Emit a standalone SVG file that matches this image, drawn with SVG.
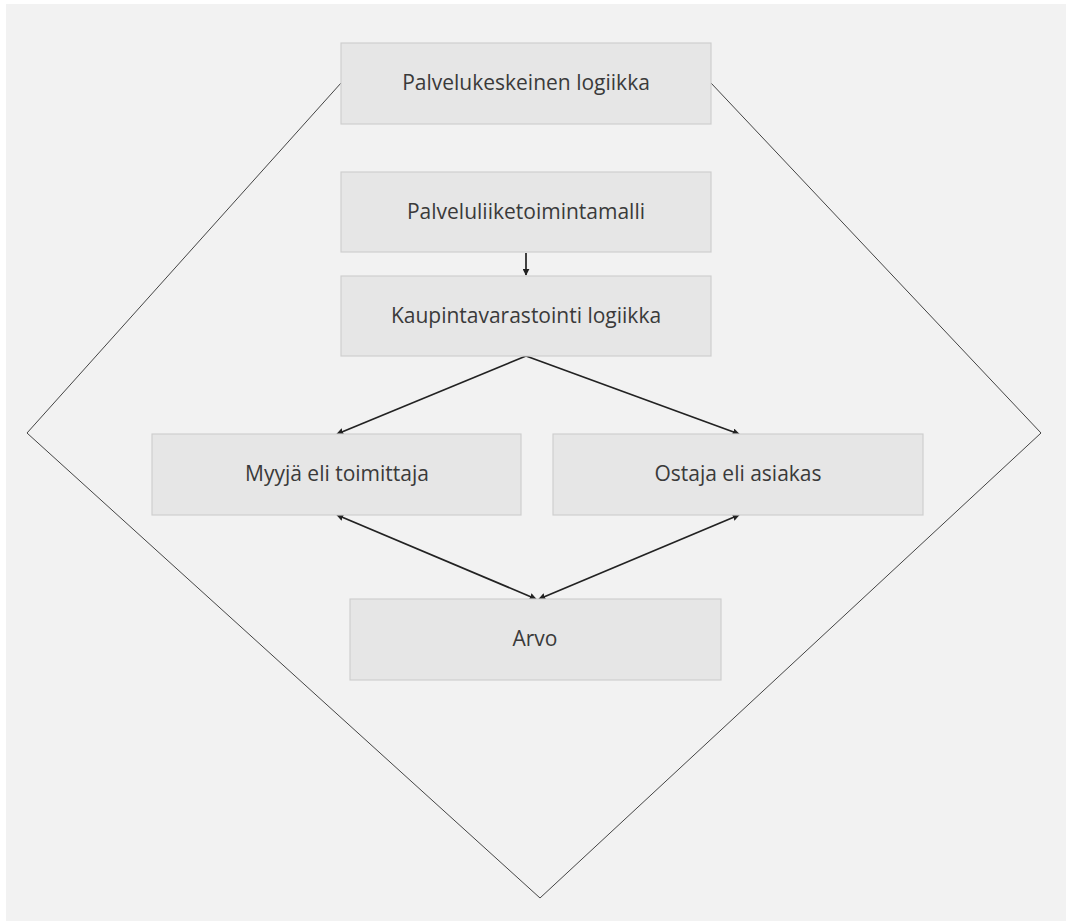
<svg xmlns="http://www.w3.org/2000/svg" width="1068" height="922" viewBox="0 0 1068 922">
  <style>
    .node rect { fill: #e6e6e6; stroke: #cfcfcf; stroke-width: 1.2; }
    .node text { font-family: "Open Sans", "Noto Sans", sans-serif; font-size: 21px; fill: #3a3a3a; text-anchor: middle; dominant-baseline: central; }
    .outline { fill: none; stroke: #444; stroke-width: 1; }
    .edge { fill: none; stroke: #222; stroke-width: 1.7; }
  </style>
  <defs>
    <marker id="arrow" viewBox="0 0 10 10" refX="9" refY="5" markerWidth="7" markerHeight="7" markerUnits="userSpaceOnUse" orient="auto-start-reverse">
      <path d="M0,0 L10,5 L0,10 z" fill="#222"/>
    </marker>
  </defs>

  <rect x="0" y="0" width="1068" height="922" fill="#ffffff"/>
  <rect x="6" y="4" width="1060" height="917" fill="#f2f2f2"/>

  <!-- surrounding diamond frame -->
  <g id="frame">
    <polyline class="outline" points="341,83 27,433 540,898 1041,433 711,83"/>
  </g>

  <g id="connectors">
    <line class="edge" x1="526" y1="253" x2="526" y2="275" marker-end="url(#arrow)"/>
    <line class="edge" x1="526" y1="356" x2="337" y2="434" marker-end="url(#arrow)"/>
    <line class="edge" x1="526" y1="356" x2="739" y2="434" marker-end="url(#arrow)"/>
    <line class="edge" x1="337" y1="515" x2="536" y2="599" marker-start="url(#arrow)" marker-end="url(#arrow)"/>
    <line class="edge" x1="739" y1="515" x2="539" y2="599" marker-start="url(#arrow)" marker-end="url(#arrow)"/>
  </g>

  <g id="palvelukeskeinen" class="node">
    <rect x="341" y="43" width="370" height="81"/>
    <text x="526" y="82">Palvelukeskeinen logiikka</text>
  </g>
  <g id="palveluliiketoimintamalli" class="node">
    <rect x="341" y="172" width="370" height="80"/>
    <text x="526" y="211">Palveluliiketoimintamalli</text>
  </g>
  <g id="kaupintavarastointi" class="node">
    <rect x="341" y="276" width="370" height="80"/>
    <text x="526" y="315">Kaupintavarastointi logiikka</text>
  </g>
  <g id="myyja" class="node">
    <rect x="152" y="434" width="369" height="81"/>
    <text x="337" y="473">Myyjä eli toimittaja</text>
  </g>
  <g id="ostaja" class="node">
    <rect x="553" y="434" width="370" height="81"/>
    <text x="738" y="473">Ostaja eli asiakas</text>
  </g>
  <g id="arvo" class="node">
    <rect x="350" y="599" width="371" height="81"/>
    <text x="535" y="638">Arvo</text>
  </g>
</svg>
